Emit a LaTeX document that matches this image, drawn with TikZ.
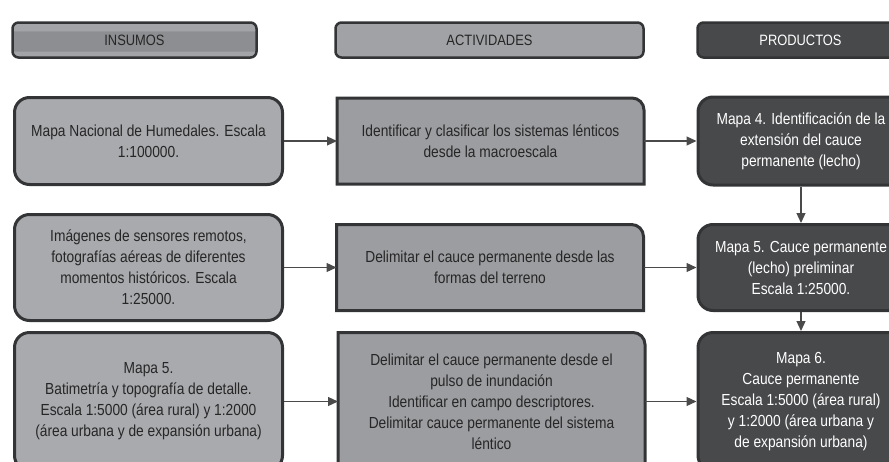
\documentclass[tikz,border=0pt]{standalone}
\usepackage{fontspec}
\setmainfont{Liberation Sans}[FakeStretch=0.86]
\usetikzlibrary{arrows.meta}
\usetikzlibrary{backgrounds}

\definecolor{insfill}{HTML}{A9AAAD}
\definecolor{actfill}{HTML}{9C9DA0}
\definecolor{headfill}{HTML}{A1A2A5}
\definecolor{prodfill}{HTML}{48494B}
\definecolor{boxline}{HTML}{333436}
\definecolor{arrline}{HTML}{4A4A4A}
\definecolor{bandlight}{HTML}{A3A4A7}
\definecolor{banddark}{HTML}{8D8E91}

\pgfdeclareverticalshading{insband}{100bp}{color(0bp)=(bandlight); color(33bp)=(bandlight); color(35bp)=(banddark); color(62bp)=(banddark); color(64bp)=(bandlight); color(100bp)=(bandlight)}

\begin{document}
\begin{tikzpicture}[->,>={Triangle[length=10pt,width=9pt]},x=1pt,y=1pt,
	every node/.style={font=\fontsize{16}{21}\selectfont,align=center,text=black!85},
	head node/.style={draw=boxline,line width=2.5pt,rounded corners=6pt,minimum height=35pt,font=\fontsize{15}{18}\selectfont},
	in node/.style={draw=boxline,line width=3pt,fill=insfill,rounded corners=15pt,minimum width=268pt},
	act node/.style={minimum width=307pt,outer sep=0pt},
	prod node/.style={draw=boxline,line width=3pt,fill=prodfill,text=white,rounded corners=15pt,minimum width=206pt}]
	
	\useasboundingbox (0,0) rectangle (889,-461);
	\clip (0,0) rectangle (889,-461);
	
	% headers
	\node[head node,shade,shading=insband,minimum width=244pt] (hIns) at (134.5,-40) {INSUMOS};
	\node[head node,fill=headfill,minimum width=308pt] (hAct) at (489.5,-40) {ACTIVIDADES};
	\node[head node,fill=prodfill,text=white,minimum width=206pt] (hProd) at (800.5,-40) {PRODUCTOS};
	
	% insumos
	\node[in node,minimum height=87pt] (in1) at (148.5,-141) {Mapa Nacional de Humedales. Escala\\1:100000.};
	\node[in node,minimum height=106pt,node distance=126.5pt,below of=in1] (in2) {Imágenes de sensores remotos,\\fotografías aéreas de diferentes\\momentos históricos. Escala\\1:25000.};
	\node[in node,minimum height=138pt,node distance=134pt,below of=in2] (in3) {Mapa 5.\\Batimetría y topografía de detalle.\\Escala 1:5000 (área rural) y 1:2000\\(área urbana y de expansión urbana)};
	
	% actividades
	\node[act node,minimum height=86pt,node distance=342pt,right of=in1] (act1) {Identificar y clasificar los sistemas lénticos\\desde la macroescala};
	\node[act node,minimum height=86pt,node distance=341.5pt,right of=in2] (act2) {Delimitar el cauce permanente desde las\\formas del terreno};
	\node[act node,minimum height=138pt,node distance=343pt,right of=in3] (act3) {Delimitar el cauce permanente desde el\\pulso de inundación\\Identificar en campo descriptores.\\Delimitar cauce permanente del sistema\\léntico};
	
	% productos
	\node[prod node,minimum height=88pt,node distance=310.5pt,right of=act1] (pr1) {Mapa 4. Identificación de la\\extensión del cauce\\permanente (lecho)};
	\node[prod node,minimum height=86pt,node distance=126.5pt,below of=pr1] (pr2) {Mapa 5. Cauce permanente\\(lecho) preliminar\\Escala 1:25000.};
	\node[prod node,minimum height=138pt,node distance=134pt,below of=pr2] (pr3) {Mapa 6.\\Cauce permanente\\Escala 1:5000 (área rural)\\y 1:2000 (área urbana y\\de expansión urbana)};
	
	\begin{scope}[on background layer]
		\foreach \a in {act1,act2,act3}
		\filldraw[-,fill=actfill,draw=boxline,line width=3pt] (\a.south west) -- (\a.north west) -- ([xshift=-12pt]\a.north east) arc[start angle=90,end angle=0,radius=12pt] -- (\a.south east) -- cycle;
	\end{scope}
	
	\path[every edge/.style={draw=arrline,line width=1.2pt}]
	(in1) edge (act1)
	(in2) edge (act2)
	(in3) edge (act3)
	(act1) edge (pr1)
	(act2) edge (pr2)
	(act3) edge (pr3)
	(pr1) edge (pr2)
	(pr2) edge (pr3)
	;
\end{tikzpicture}
\end{document}
